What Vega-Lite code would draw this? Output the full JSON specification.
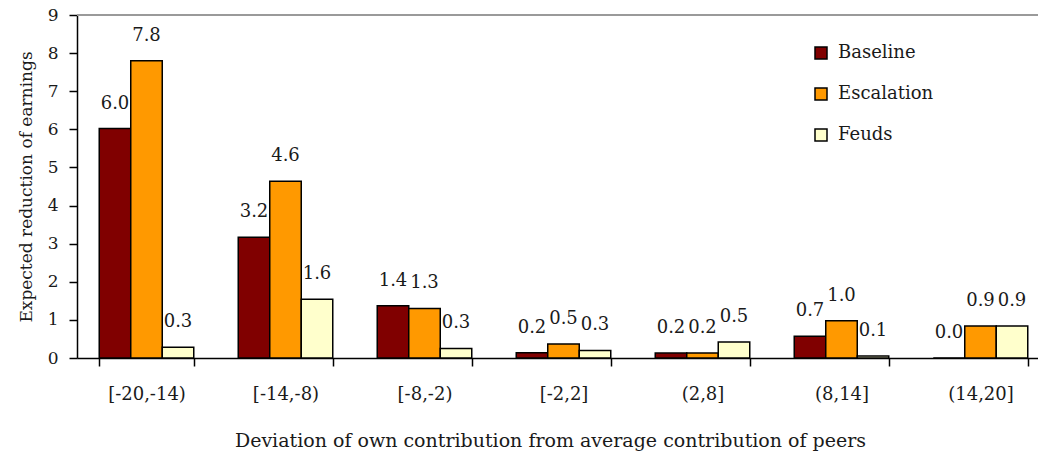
{
  "$schema": "https://vega.github.io/schema/vega-lite/v6.json",
  "width": 961,
  "height": 343,
  "autosize": {"type": "none"},
  "padding": {"left": 77, "top": 15, "right": 0, "bottom": 100},
  "background": "white",
  "config": {"view": {"stroke": null}, "font": "DejaVu Serif"},
  "data": {
    "values": [
      {"bin": "[-20,-14)", "treatment": "Baseline", "value": 6.02, "label": "6.0"},
      {"bin": "[-20,-14)", "treatment": "Escalation", "value": 7.8, "label": "7.8"},
      {"bin": "[-20,-14)", "treatment": "Feuds", "value": 0.28, "label": "0.3"},
      {"bin": "[-14,-8)", "treatment": "Baseline", "value": 3.17, "label": "3.2"},
      {"bin": "[-14,-8)", "treatment": "Escalation", "value": 4.64, "label": "4.6"},
      {"bin": "[-14,-8)", "treatment": "Feuds", "value": 1.54, "label": "1.6"},
      {"bin": "[-8,-2)", "treatment": "Baseline", "value": 1.37, "label": "1.4"},
      {"bin": "[-8,-2)", "treatment": "Escalation", "value": 1.3, "label": "1.3"},
      {"bin": "[-8,-2)", "treatment": "Feuds", "value": 0.25, "label": "0.3"},
      {"bin": "[-2,2]", "treatment": "Baseline", "value": 0.14, "label": "0.2"},
      {"bin": "[-2,2]", "treatment": "Escalation", "value": 0.37, "label": "0.5"},
      {"bin": "[-2,2]", "treatment": "Feuds", "value": 0.2, "label": "0.3"},
      {"bin": "(2,8]", "treatment": "Baseline", "value": 0.13, "label": "0.2"},
      {"bin": "(2,8]", "treatment": "Escalation", "value": 0.13, "label": "0.2"},
      {"bin": "(2,8]", "treatment": "Feuds", "value": 0.42, "label": "0.5"},
      {"bin": "(8,14]", "treatment": "Baseline", "value": 0.57, "label": "0.7"},
      {"bin": "(8,14]", "treatment": "Escalation", "value": 0.98, "label": "1.0"},
      {"bin": "(8,14]", "treatment": "Feuds", "value": 0.05, "label": "0.1"},
      {"bin": "(14,20]", "treatment": "Baseline", "value": 0.0, "label": "0.0"},
      {"bin": "(14,20]", "treatment": "Escalation", "value": 0.84, "label": "0.9"},
      {"bin": "(14,20]", "treatment": "Feuds", "value": 0.84, "label": "0.9"}
    ]
  },
  "encoding": {
    "x": {
      "field": "bin",
      "type": "nominal",
      "sort": ["[-20,-14)", "[-14,-8)", "[-8,-2)", "[-2,2]", "(2,8]", "(8,14]", "(14,20]"],
      "scale": {"range": [0, 973], "paddingInner": 0.32, "paddingOuter": 0.16},
      "title": "Deviation of own contribution from average contribution of peers",
      "axis": {
        "labelAngle": 0,
        "tickBand": "extent",
        "tickSize": 8,
        "tickColor": "black",
        "tickWidth": 1.5,
        "domainColor": "black",
        "domainWidth": 1.5,
        "labelFontSize": 18,
        "labelColor": "#1a1a1a",
        "labelPadding": 19,
        "titleFontSize": 19,
        "titleFontWeight": "normal",
        "titleColor": "#1a1a1a",
        "titlePadding": 28,
        "titleX": 473,
        "grid": false
      }
    },
    "xOffset": {
      "field": "treatment",
      "type": "nominal",
      "sort": ["Baseline", "Escalation", "Feuds"],
      "scale": {"paddingInner": 0, "paddingOuter": 0}
    },
    "y": {
      "field": "value",
      "type": "quantitative",
      "scale": {"domain": [0, 9], "nice": false},
      "title": "Expected reduction of earnings",
      "axis": {
        "values": [0, 1, 2, 3, 4, 5, 6, 7, 8, 9],
        "format": "d",
        "grid": false,
        "tickSize": 8,
        "tickColor": "black",
        "tickWidth": 1.5,
        "domainColor": "black",
        "domainWidth": 1.5,
        "labelFontSize": 17,
        "labelColor": "#1a1a1a",
        "labelPadding": 11,
        "titleFontSize": 17,
        "titleFontWeight": "normal",
        "titleColor": "#1a1a1a",
        "titlePadding": 12
      }
    }
  },
  "layer": [
    {
      "mark": {"type": "rule", "color": "#9a9a9a", "strokeWidth": 1.5},
      "encoding": {"x": null, "xOffset": null, "y": {"datum": 9}}
    },
    {
      "mark": {"type": "bar", "stroke": "black", "strokeWidth": 1.5},
      "encoding": {
        "color": {
          "field": "treatment",
          "type": "nominal",
          "scale": {"domain": ["Baseline", "Escalation", "Feuds"], "range": ["#800000", "#FF9900", "#FFFFCC"]},
          "legend": {
            "title": null,
            "orient": "none",
            "legendX": 735,
            "legendY": 29,
            "symbolType": "square",
            "symbolSize": 144,
            "symbolStrokeColor": "black",
            "symbolStrokeWidth": 1.5,
            "symbolOpacity": 1,
            "labelFontSize": 18,
            "labelColor": "#1a1a1a",
            "labelOffset": 8,
            "rowPadding": 23
          }
        }
      }
    },
    {
      "mark": {"type": "text", "baseline": "middle", "dy": -25, "fontSize": 18, "color": "#1a1a1a"},
      "encoding": {"text": {"field": "label"}}
    }
  ]
}
